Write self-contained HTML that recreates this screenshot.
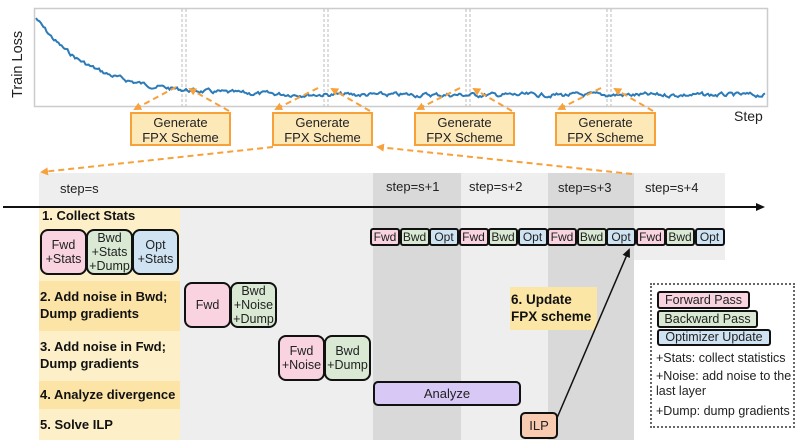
<!DOCTYPE html>
<html><head><meta charset="utf-8"><style>
body{margin:0;width:797px;height:442px;background:#fff;position:relative;overflow:hidden;font-family:"Liberation Sans",sans-serif;}
.a{position:absolute;box-sizing:border-box;}
.bx{position:absolute;box-sizing:border-box;border:2px solid #111;border-radius:8px;display:flex;align-items:center;justify-content:center;text-align:center;font-size:12.5px;line-height:14px;color:#222;}
.sm{position:absolute;box-sizing:border-box;border:1.5px solid #111;border-radius:3px;font-size:11px;line-height:13px;text-align:center;color:#222;}
.lab{position:absolute;font-weight:bold;font-size:13px;line-height:17px;color:#111;}
.st{position:absolute;font-size:13px;color:#222;}
.gen{position:absolute;box-sizing:border-box;border:2px solid #f7a13a;background:#fde8b8;width:101px;height:34px;font-size:13px;line-height:15px;text-align:center;padding-top:1px;color:#222;}
</style></head><body>
<div class="a" style="left:39px;top:173px;width:334px;height:267px;background:#eeeeee"></div>
<div class="a" style="left:373px;top:173px;width:88px;height:267px;background:#d9d9d9"></div>
<div class="a" style="left:461px;top:173px;width:87px;height:267px;background:#eeeeee"></div>
<div class="a" style="left:548px;top:173px;width:86px;height:267px;background:#d9d9d9"></div>
<div class="a" style="left:634px;top:173px;width:91px;height:87px;background:#eeeeee"></div>
<div class="a" style="left:39px;top:208px;width:141px;height:73px;background:#fdf0c8"></div>
<div class="a" style="left:39px;top:281px;width:141px;height:50px;background:#fbe4a6"></div>
<div class="a" style="left:39px;top:331px;width:141px;height:50px;background:#fdf0c8"></div>
<div class="a" style="left:39px;top:381px;width:141px;height:28px;background:#fbe4a6"></div>
<div class="a" style="left:39px;top:409px;width:141px;height:31px;background:#fdf0c8"></div>
<div class="a" style="left:510px;top:287px;width:87px;height:43px;background:#fce6a6"></div>

<div class="st" style="left:60px;top:181px">step=s</div>
<div class="st" style="left:386px;top:179px">step=s+1</div>
<div class="st" style="left:469px;top:179px">step=s+2</div>
<div class="st" style="left:558px;top:180px">step=s+3</div>
<div class="st" style="left:645px;top:180px">step=s+4</div>

<div class="lab" style="left:42px;top:207px">1. Collect Stats</div>
<div class="lab" style="left:40px;top:288px">2. Add noise in Bwd;<br>Dump gradients</div>
<div class="lab" style="left:40px;top:338px">3. Add noise in Fwd;<br>Dump gradients</div>
<div class="lab" style="left:40px;top:386px">4. Analyze divergence</div>
<div class="lab" style="left:40px;top:416px">5. Solve ILP</div>
<div class="lab" style="left:511px;top:291px;font-size:13.5px">6. Update<br>FPX scheme</div>

<div class="bx" style="left:40px;top:229px;width:47px;height:46px;background:#f9d3e0">Fwd<br>+Stats</div>
<div class="bx" style="left:86px;top:229px;width:47px;height:46px;background:#d9e9d3">Bwd<br>+Stats<br>+Dump</div>
<div class="bx" style="left:132px;top:229px;width:47px;height:46px;background:#cfe3f3">Opt<br>+Stats</div>
<div class="bx" style="left:184px;top:282px;width:47px;height:46px;background:#f9d3e0">Fwd</div>
<div class="bx" style="left:230px;top:282px;width:47px;height:46px;background:#d9e9d3">Bwd<br>+Noise<br>+Dump</div>
<div class="bx" style="left:278px;top:335px;width:47px;height:46px;background:#f9d3e0">Fwd<br>+Noise</div>
<div class="bx" style="left:324px;top:335px;width:47px;height:46px;background:#d9e9d3">Bwd<br>+Dump</div>
<div class="bx" style="left:373px;top:381px;width:148px;height:25px;background:#d8c8f5;border-radius:5px;font-size:13px">Analyze</div>
<div class="bx" style="left:520px;top:412px;width:38px;height:27px;background:#f9cbb0;border-radius:5px;font-size:13px">ILP</div>

<div id="pipe"></div>

<div class="a" style="left:650px;top:283px;width:145px;height:145px;border:2px dotted #666"></div>
<div class="sm" style="left:657px;top:291px;width:93px;height:18px;background:#f9d3e0;border-width:2px;font-size:12.5px;line-height:14px">Forward Pass</div>
<div class="sm" style="left:657px;top:310px;width:101px;height:18px;background:#d9e9d3;border-width:2px;font-size:12.5px;line-height:14px">Backward Pass</div>
<div class="sm" style="left:657px;top:329px;width:114px;height:17px;background:#cfe3f3;border-width:2px;font-size:12.5px;line-height:13px">Optimizer Update</div>
<div class="a" style="left:656px;top:351px;font-size:12.5px;line-height:14px;color:#222;white-space:nowrap">+Stats: collect statistics</div>
<div class="a" style="left:656px;top:369px;font-size:12.5px;line-height:15px;color:#222;width:140px">+Noise: add noise to the last layer</div>
<div class="a" style="left:656px;top:404px;font-size:12.5px;line-height:14px;color:#222;white-space:nowrap">+Dump: dump gradients</div>

<div class="a" style="left:8px;top:28px;width:20px;height:70px;"><div style="transform:rotate(-90deg);transform-origin:0 0;position:absolute;left:2px;top:70px;font-size:14.5px;white-space:nowrap;color:#222">Train Loss</div></div>
<div class="a" style="left:734px;top:108px;font-size:14px;color:#222">Step</div>
<div class="gen" style="left:130px;top:112px">Generate<br>FPX Scheme</div>
<div class="gen" style="left:272px;top:112px">Generate<br>FPX Scheme</div>
<div class="gen" style="left:414px;top:112px">Generate<br>FPX Scheme</div>
<div class="gen" style="left:555px;top:112px">Generate<br>FPX Scheme</div>

<svg class="a" style="left:0;top:0" width="797" height="442">
<defs>
<marker id="o" markerWidth="8" markerHeight="8" refX="6" refY="4" orient="auto" markerUnits="userSpaceOnUse"><path d="M0,0L8,4L0,8z" fill="#f7a13a"/></marker>
<marker id="k" markerWidth="9" markerHeight="8" refX="7" refY="4" orient="auto" markerUnits="userSpaceOnUse"><path d="M0,0L9,4L0,8z" fill="#111"/></marker>
</defs>
<rect x="34.5" y="8.5" width="733" height="98" fill="none" stroke="#ccc" stroke-width="1.5"/>
<g stroke="#bbb" stroke-dasharray="3,2" stroke-width="1">
<line x1="182" y1="9" x2="182" y2="106"/><line x1="186" y1="9" x2="186" y2="106"/>
<line x1="324" y1="9" x2="324" y2="106"/><line x1="328" y1="9" x2="328" y2="106"/>
<line x1="466" y1="9" x2="466" y2="106"/><line x1="470" y1="9" x2="470" y2="106"/>
<line x1="607" y1="9" x2="607" y2="106"/><line x1="611" y1="9" x2="611" y2="106"/>
</g>
<path id="loss" fill="none" stroke="#2b7bb9" stroke-width="2"/>
<g stroke="#f7a13a" stroke-width="2" stroke-dasharray="6,4" fill="none">
<line x1="176" y1="87" x2="135" y2="109" marker-end="url(#o)"/>
<line x1="229" y1="111" x2="190" y2="89" marker-end="url(#o)"/>
<line x1="318" y1="88" x2="276" y2="109" marker-end="url(#o)"/>
<line x1="370" y1="111" x2="332" y2="89" marker-end="url(#o)"/>
<line x1="460" y1="88" x2="418" y2="109" marker-end="url(#o)"/>
<line x1="512" y1="111" x2="474" y2="89" marker-end="url(#o)"/>
<line x1="601" y1="88" x2="559" y2="109" marker-end="url(#o)"/>
<line x1="653" y1="111" x2="615" y2="89" marker-end="url(#o)"/>
<line x1="273" y1="147" x2="42" y2="172" marker-end="url(#o)"/>
<line x1="632" y1="174" x2="378" y2="147" marker-end="url(#o)"/>
</g>
<line x1="3" y1="207" x2="763" y2="207" stroke="#111" stroke-width="2" marker-end="url(#k)"/>
<line x1="557" y1="418" x2="629" y2="250" stroke="#111" stroke-width="1.5" marker-end="url(#k)"/>
</svg>
<script>
var d="",s=7;function r(){s=(s*9301+49297)%233280;return s/233280-0.5;}
var n=0;
for(var x=36;x<=766;x+=1.5){n=n*0.6+r()*3.5;var y=95-77*Math.exp(-(x-36)/55)+n;d+=(x==36?"M":"L")+x+","+y.toFixed(1);}
document.getElementById("loss").setAttribute("d",d);
var p="",c=[["Fwd","#f9d3e0"],["Bwd","#d9e9d3"],["Opt","#cfe3f3"]];
for(var i=0;i<4;i++)for(var j=0;j<3;j++){var l=370+i*88.5+j*29.5;
p+='<div class="sm" style="left:'+l+'px;top:228px;width:30px;height:18px;background:'+c[j][1]+';border:2px solid #111;border-radius:3px;font-size:12px;line-height:14px">'+c[j][0]+'</div>';}
document.getElementById("pipe").innerHTML=p;
</script>
</body></html>
